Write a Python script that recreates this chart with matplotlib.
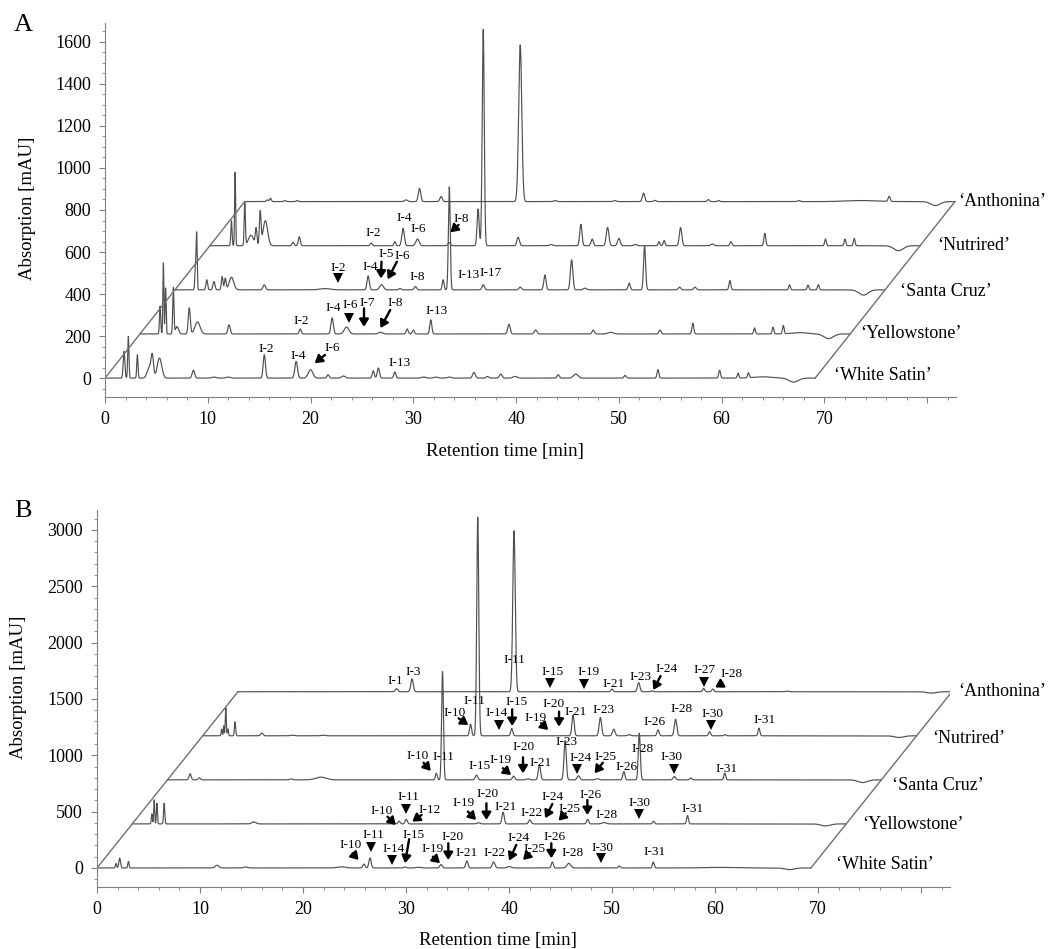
import numpy as np
import matplotlib.pyplot as plt

plt.rcParams['font.family'] = ['Liberation Serif', 'DejaVu Serif']

samples = ['White Satin', 'Yellowstone', 'Santa Cruz', 'Nutrired', 'Anthonina']

# peaks: (retention time [min], height [mAU], sigma [min])
# panel A
peaks_a_white = [(1.85, 127, .08), (2.27, 198, .06), (3.15, 111, .06), (4.3, 50, .2), (4.6, 100, .12),
                 (5.3, 95, .22), (8.6, 38, .12), (10.6, 5, .2), (12.0, 5, .2), (15.5, 111, .11),
                 (18.6, 79, .13), (20.0, 40, .22), (21.7, 16, .1), (23.2, 10, .18), (26.1, 35, .1),
                 (26.6, 48, .11), (28.2, 29, .1), (31.0, 5, .2), (32.2, 5, .2), (33.5, 5, .2),
                 (35.9, 27, .13), (37.2, 8, .13), (38.5, 19, .13), (39.9, 8, .2), (44.1, 16, .11),
                 (45.8, 19, .22), (50.6, 13, .1), (53.8, 40, .09), (59.8, 37, .09), (61.6, 24, .08),
                 (62.6, 24, .08), (64.0, 6, .9), (67.0, -19, .45)]
peaks_a_yellow = [(1.96, 132, .06), (2.28, 338, .05), (2.5, 219, .05), (3.25, 220, .06), (3.6, 35, .15),
                  (4.8, 124, .1), (5.6, 57, .25), (8.67, 44, .11), (15.6, 24, .1), (18.7, 76, .12),
                  (20.1, 33, .22), (23.4, 8, .2), (26.0, 24, .1), (26.6, 19, .1), (28.3, 67, .1),
                  (35.9, 46, .12), (38.5, 19, .13), (44.1, 19, .11), (45.8, 8, .25), (50.6, 19, .1),
                  (53.8, 51, .09), (59.8, 29, .08), (61.6, 32, .08), (62.6, 40, .08), (64.2, 6, .8),
                  (67.0, -22, .45)]
peaks_a_santa = [(2.0, 110, .06), (2.12, 260, .05), (3.1, 48, .08), (3.8, 40, .1), (4.6, 63, .08),
                 (4.9, 55, .08), (5.5, 60, .22), (8.7, 24, .12), (14.6, 6, .5), (18.8, 67, .11),
                 (20.1, 24, .18), (21.9, 6, .12), (23.4, 16, .12), (26.1, 48, .09), (26.7, 490, .09),
                 (30.0, 24, .12), (33.6, 13, .12), (36.0, 71, .11), (38.6, 143, .12), (39.9, 8, .15),
                 (44.2, 32, .1), (45.7, 209, .1), (49.1, 13, .12), (50.6, 13, .12), (54.0, 44, .09),
                 (59.8, 24, .08), (61.6, 22, .08), (62.6, 25, .08), (67.0, -25, .45)]
peaks_a_nutri = [(2.1, 119, .06), (2.46, 349, .05), (3.4, 203, .06), (4.0, 50, .25), (4.5, 80, .08),
                 (4.9, 159, .08), (5.4, 119, .22), (8.1, 16, .1), (8.7, 43, .1), (15.7, 13, .1),
                 (18.0, 19, .09), (18.8, 83, .12), (20.2, 32, .16), (23.3, 15, .12), (26.1, 175, .1),
                 (26.6, 1030, .1), (30.0, 40, .12), (33.2, 6, .15), (36.1, 102, .11), (37.2, 32, .11),
                 (38.7, 87, .13), (39.8, 35, .13), (41.4, 6, .15), (43.7, 19, .08), (44.2, 25, .09),
                 (45.8, 86, .12), (48.9, 8, .15), (50.7, 19, .1), (54.0, 59, .09), (59.9, 32, .08),
                 (61.8, 32, .08), (62.7, 35, .08), (67.0, -24, .45)]
peaks_a_antho = [(2.2, 8, .1), (2.5, 16, .08), (3.9, 5, .1), (5.1, 5, .1), (15.7, 8, .15), (17.0, 63, .12),
                 (19.1, 24, .12), (26.8, 746, .15), (30.2, 5, .15), (36.0, 5, .15), (38.8, 40, .12),
                 (39.9, 6, .12), (45.1, 10, .1), (46.1, 5, .1), (53.9, 5, .12), (60.0, 5, 1.5),
                 (62.7, 24, .1), (67.2, -19, .45)]

# panel B
peaks_b_white = [(1.85, 40, .06), (2.2, 89, .08), (3.05, 59, .06), (11.65, 24, .18), (14.4, 8, .2),
                 (23.7, 10, .4), (25.9, 35, .1), (26.5, 89, .11), (29.9, 8, .13), (31.2, 6, .2),
                 (33.4, 30, .12), (35.9, 62, .11), (38.5, 53, .13), (40.0, 12, .2), (44.2, 53, .1),
                 (45.8, 41, .18), (50.7, 18, .1), (54.0, 53, .09), (60.5, 5, 1.5), (67.2, -15, .45)]
peaks_b_yellow = [(1.9, 89, .05), (2.13, 213, .05), (2.4, 183, .05), (3.1, 183, .06), (11.8, 18, .2),
                  (25.9, 24, .1), (26.6, 40, .11), (33.6, 10, .15), (36.0, 104, .11), (38.6, 36, .12),
                  (44.2, 41, .1), (45.8, 12, .2), (50.6, 24, .09), (53.9, 74, .09), (67.3, -18, .45)]
peaks_b_santa = [(2.2, 53, .1), (3.1, 18, .1), (12.0, 8, .15), (14.9, 24, .5), (26.1, 59, .09),
                 (26.7, 960, .09), (30.0, 42, .12), (33.6, 33, .12), (35.0, 10, .12), (36.1, 136, .11),
                 (38.6, 349, .11), (39.9, 36, .13), (41.7, 10, .15), (44.3, 74, .1), (45.8, 414, .1),
                 (49.2, 30, .12), (50.8, 18, .1), (54.1, 59, .09), (67.5, -24, .45)]
peaks_b_nutri = [(1.84, 59, .05), (2.04, 89, .04), (2.24, 251, .05), (2.45, 60, .05), (3.14, 124, .06),
                 (5.74, 24, .12), (8.7, 5, .2), (11.7, 5, .2), (26.0, 104, .1), (26.7, 1939, .1),
                 (30.0, 65, .1), (35.95, 183, .11), (38.6, 163, .12), (39.9, 59, .12), (41.4, 10, .15),
                 (44.2, 53, .1), (45.9, 148, .12), (49.2, 36, .1), (50.7, 10, .1), (54.0, 68, .09),
                 (67.6, -15, .45)]
peaks_b_antho = [(15.4, 27, .12), (16.9, 113, .12), (26.8, 1430, .12), (36.3, 24, .1), (38.9, 80, .12),
                 (40.2, 8, .12), (45.2, 30, .1), (46.1, 24, .1), (53.3, 6, .12), (67.3, -12, .45)]

# peak labels: (text, x, y, kind, from, to); kind 'tri' marks a point, 'arr' draws an arrow
notes_a = [
    ('I-2', 15.7, 138, None), ('I-4', 18.8, 105, None),
    ('I-6', 22.1, 143, 'arr', (21.4, 110), (20.4, 71)), ('I-13', 28.7, 71, None),
    ('I-2', 19.1, 273, None), ('I-4', 22.2, 332, None),
    ('I-6', 23.85, 348, 'tri', (23.76, 286)),
    ('I-7', 25.5, 355, 'arr', (25.2, 332), (25.2, 244)),
    ('I-8', 28.2, 355, 'arr', (27.75, 324), (26.8, 238)), ('I-13', 32.3, 320, None),
    ('I-2', 22.7, 522, 'tri', (22.7, 474)), ('I-4', 25.8, 530, None),
    ('I-5', 27.4, 589, 'arr', (26.9, 554), (26.85, 474)),
    ('I-6', 28.9, 581, 'arr', (28.4, 554), (27.5, 470)),
    ('I-8', 30.4, 483, None), ('I-13', 35.4, 490, None), ('I-17', 37.5, 498, None),
    ('I-2', 26.1, 692, None), ('I-4', 29.1, 760, None), ('I-6', 30.5, 708, None),
    ('I-8', 34.7, 755, 'arr', (34.4, 729), (33.6, 694)),
]
notes_b = [
    ('I-10', 24.6, 204, 'arr', (24.8, 130), (25.4, 71)), ('I-11', 26.8, 293, 'tri', (26.6, 189)),
    ('I-14', 28.8, 169, 'tri', (28.6, 71)), ('I-15', 30.7, 293, 'arr', (30.3, 255), (29.9, 42)),
    ('I-19', 32.6, 169, 'arr', (32.6, 100), (33.3, 42)), ('I-20', 34.5, 278, 'arr', (34.1, 219), (34.1, 71)),
    ('I-21', 35.9, 130, None), ('I-22', 38.6, 130, None),
    ('I-24', 40.9, 263, 'arr', (40.7, 204), (40.0, 65)), ('I-25', 42.5, 166, 'arr', (42.0, 130), (41.35, 71)),
    ('I-26', 44.4, 278, 'arr', (44.1, 219), (44.1, 86)), ('I-28', 46.2, 130, None),
    ('I-30', 49.1, 175, 'tri', (48.97, 86)), ('I-31', 54.1, 145, None),
    ('I-10', 27.6, 509, 'arr', (28.2, 455), (29.0, 381)), ('I-11', 30.25, 627, 'tri', (30.0, 523)),
    ('I-12', 32.3, 515, 'arr', (31.5, 470), (30.6, 411)), ('I-19', 35.6, 574, 'arr', (36.0, 500), (36.8, 426)),
    ('I-20', 37.9, 657, 'arr', (37.8, 574), (37.8, 426)), ('I-21', 39.7, 539, None),
    ('I-22', 42.2, 485, None), ('I-24', 44.2, 627, 'arr', (44.2, 568), (43.5, 441)),
    ('I-25', 45.9, 521, 'arr', (45.5, 485), (44.8, 420)), ('I-26', 47.9, 648, 'arr', (47.6, 603), (47.6, 470)),
    ('I-28', 49.5, 470, None), ('I-30', 52.7, 574, 'tri', (52.6, 479)), ('I-31', 57.8, 521, None),
    ('I-10', 31.1, 994, 'arr', (31.7, 934), (32.4, 861)), ('I-11', 33.6, 982, None),
    ('I-15', 37.1, 905, None), ('I-19', 39.2, 958, 'arr', (39.4, 885), (40.2, 825)),
    ('I-20', 41.4, 1071, 'arr', (41.35, 982), (41.35, 840)), ('I-21', 43.1, 929, None),
    ('I-23', 45.6, 1115, None), ('I-24', 46.9, 973, 'tri', (46.64, 876)),
    ('I-25', 49.4, 982, 'arr', (49.1, 934), (48.3, 840)), ('I-26', 51.4, 899, None),
    ('I-28', 53.0, 1056, None), ('I-30', 55.8, 982, 'tri', (56.0, 876)), ('I-31', 61.1, 876, None),
    ('I-10', 34.7, 1378, 'arr', (35.1, 1328), (36.05, 1269)), ('I-11', 36.6, 1485, None),
    ('I-14', 38.75, 1372, 'tri', (39.0, 1269)), ('I-15', 40.7, 1470, 'arr', (40.3, 1408), (40.3, 1260)),
    ('I-19', 42.6, 1328, 'arr', (43.1, 1284), (43.8, 1224)),
    ('I-20', 44.3, 1455, 'arr', (44.85, 1387), (44.85, 1254)), ('I-21', 46.5, 1387, None),
    ('I-23', 49.2, 1402, None), ('I-26', 54.1, 1298, None), ('I-28', 56.7, 1408, None),
    ('I-30', 59.75, 1366, 'tri', (59.6, 1269)), ('I-31', 64.8, 1313, None),
    ('I-1', 29.0, 1662, None), ('I-3', 30.7, 1742, None), ('I-11', 40.5, 1846, None),
    ('I-15', 44.2, 1736, 'tri', (43.95, 1644)), ('I-19', 47.7, 1736, 'tri', (47.26, 1633)),
    ('I-21', 50.1, 1633, None), ('I-23', 52.8, 1697, None),
    ('I-24', 55.3, 1763, 'arr', (54.7, 1703), (54.0, 1579)), ('I-27', 59.0, 1757, 'tri', (58.9, 1648)),
    ('I-28', 61.6, 1721, 'arr', (60.7, 1639), (60.0, 1603)),
]

line_col = '#505050'
axis_col = '#808080'


def signal(t, peaks):
    y = np.zeros_like(t)
    for rt, h, w in peaks:
        y += h * np.exp(-0.5 * ((t - rt) / w) ** 2)
    return y


def draw_panel(ax, peak_sets, dx, dy, t_end, ylim, ymajor, yminor, notes, name_pos):
    t = np.linspace(0, t_end, 8000)
    for k, pk in enumerate(peak_sets):
        ax.plot(t + k * dx, k * dy + signal(t, pk), color=line_col, lw=0.85)
    n = len(peak_sets) - 1
    ax.plot([0, n * dx], [0, n * dy], color='#707070', lw=1.0)
    ax.plot([t_end, t_end + n * dx], [0, n * dy], color='#707070', lw=1.0)

    for nt in notes:
        ax.text(nt[1], nt[2], nt[0], fontsize=9.5, ha='center', va='center')
        if nt[3] == 'tri':
            ax.plot(*nt[4], marker='v', ms=6.5, color='k', mew=0)
        elif nt[3] == 'arr':
            ax.annotate('', xy=nt[5], xytext=nt[4],
                        arrowprops=dict(arrowstyle='-|>,head_length=0.4,head_width=0.25',
                                        color='k', lw=1.7, shrinkA=0, shrinkB=0, mutation_scale=11))

    for name, (x, y) in zip(samples, name_pos):
        ax.text(x, y, '\u2018' + name + '\u2019', fontsize=13, ha='left', va='center')

    ax.set_xlim(0, 82.8)
    ax.set_ylim(*ylim)
    ax.set_xticks(np.arange(0, 81, 10))
    ax.set_xticklabels([str(v) if v <= 70 else '' for v in range(0, 81, 10)])
    ax.set_xticks(np.arange(0, 83, 2), minor=True)
    ax.set_yticks(ymajor)
    ax.set_yticks(yminor, minor=True)
    for s in ['top', 'right']:
        ax.spines[s].set_visible(False)
    for s in ['left', 'bottom']:
        ax.spines[s].set_color(axis_col)
    ax.tick_params(which='major', length=4, color=axis_col, labelsize=13, pad=6)
    ax.tick_params(which='minor', length=2, color=axis_col)


W, H = 1052, 949
fig = plt.figure(figsize=(W / 100, H / 100), dpi=100)

ax_a = fig.add_axes([105 / W, 1 - 397 / H, 851 / W, 374 / H])
draw_panel(ax_a, [peaks_a_white, peaks_a_yellow, peaks_a_santa, peaks_a_nutri, peaks_a_antho],
           3.4, 210, 69.1, (-90, 1690), np.arange(0, 1601, 200), np.arange(-50, 1651, 50), notes_a,
           [(70.9, 14), (73.5, 212), (77.4, 411), (81.0, 629), (83.0, 840)])

ax_b = fig.add_axes([97 / W, 1 - 887 / H, 853 / W, 377 / H])
draw_panel(ax_b, [peaks_b_white, peaks_b_yellow, peaks_b_santa, peaks_b_nutri, peaks_b_antho],
           3.42, 391, 69.3, (-169, 3177), np.arange(0, 3001, 500), np.arange(-100, 3101, 100), notes_b,
           [(71.7, 27), (74.3, 390), (77.2, 736), (81.1, 1150), (83.6, 1565)])

fig.text(505 / W, 1 - 452 / H, 'Retention time [min]', fontsize=13.5, ha='center', va='center')
fig.text(498 / W, 1 - 940 / H, 'Retention time [min]', fontsize=13.5, ha='center', va='center')
fig.text(28 / W, 1 - 208 / H, 'Absorption [mAU]', fontsize=13.5, ha='center', va='center', rotation=90)
fig.text(19 / W, 1 - 687 / H, 'Absorption [mAU]', fontsize=13.5, ha='center', va='center', rotation=90)
fig.text(14 / W, 1 - 25 / H, 'A', fontsize=19, ha='left', va='center')
fig.text(14 / W, 1 - 511 / H, 'B', fontsize=19, ha='left', va='center')

fig.savefig('out.png', dpi=100)
